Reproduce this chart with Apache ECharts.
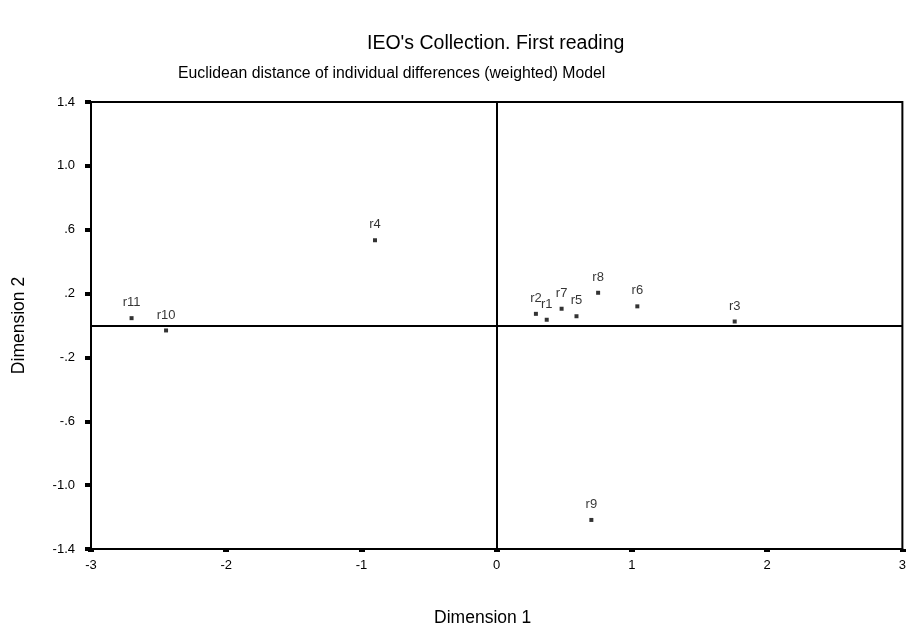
<!DOCTYPE html>
<html>
<head>
<meta charset="utf-8">
<script src="https://cdn.jsdelivr.net/npm/echarts@6/dist/echarts.min.js"></script>
<style>html,body{margin:0;padding:0;background:#fff}#c{width:909px;height:632px}</style>
</head>
<body>
<div id="c"></div>
<script>
const pointNames = ['r1','r2','r3','r4','r5','r6','r7','r8','r9','r10','r11'];
const dimension1 = [0.37, 0.29, 1.76, -0.90, 0.59, 1.04, 0.48, 0.75, 0.70, -2.445, -2.70];
const dimension2 = [0.036, 0.073, 0.025, 0.534, 0.058, 0.12, 0.105, 0.205, -1.218, -0.031, 0.046];
const yTickValues = [-1.4, -1.0, -0.6, -0.2, 0.2, 0.6, 1.0, 1.4];
const yTickLabels = ['-1.4', '-1.0', '-.6', '-.2', '.2', '.6', '1.0', '1.4'];
const xTickValues = [-3, -2, -1, 0, 1, 2, 3];
const xTickLabels = ['-3', '-2', '-1', '0', '1', '2', '3'];

function lookup(vals, labels, v) {
  let best = 0, bd = Infinity;
  vals.forEach((t, i) => { const d = Math.abs(t - v); if (d < bd) { bd = d; best = i; } });
  return bd < 1e-6 ? labels[best] : '';
}

const FONT = 'Liberation Sans';
const chart = echarts.init(document.getElementById('c'), null, { renderer: 'canvas' });
chart.setOption({
  backgroundColor: '#fff',
  animation: false,
  title: [
    { text: "IEO's Collection. First reading", left: 362, top: 29,
      textStyle: { fontFamily: FONT, fontSize: 19.5, fontWeight: 'normal', color: '#000' } },
    { text: 'Euclidean distance of individual differences (weighted) Model', left: 173, top: 61,
      textStyle: { fontFamily: FONT, fontSize: 15.8, fontWeight: 'normal', color: '#000' } }
  ],
  grid: { left: 91, right: 6, top: 102, bottom: 83, show: true, borderColor: '#000', borderWidth: 2, containLabel: false },
  xAxis: {
    type: 'value', min: -3, max: 3, interval: 1,
    name: 'Dimension 1', nameLocation: 'middle', nameGap: 60,
    nameTextStyle: { fontFamily: FONT, fontSize: 17.5, color: '#000', padding: [0, 28, 0, 0] },
    axisLine: { show: true, onZero: false, lineStyle: { color: '#000', width: 2 } },
    axisTick: { show: true, length: 3, lineStyle: { color: '#000', width: 6 } },
    axisLabel: { fontFamily: FONT, fontSize: 13, color: '#000', margin: 10,
      formatter: v => lookup(xTickValues, xTickLabels, v) },
    splitLine: { show: false }
  },
  yAxis: {
    type: 'value', min: -1.4, max: 1.4, interval: 0.4,
    name: 'Dimension 2', nameLocation: 'middle', nameGap: 63, nameRotate: 90,
    nameTextStyle: { fontFamily: FONT, fontSize: 17.5, color: '#000' },
    axisLine: { show: true, onZero: false, lineStyle: { color: '#000', width: 2 } },
    axisTick: { show: true, length: 6, lineStyle: { color: '#000', width: 4 } },
    axisLabel: { fontFamily: FONT, fontSize: 13, color: '#000', margin: 16,
      formatter: v => lookup(yTickValues, yTickLabels, v) },
    splitLine: { show: false }
  },
  series: [{
    type: 'scatter',
    symbol: 'rect',
    symbolSize: 4,
    itemStyle: { color: '#000' },
    data: pointNames.map((n, i) => ({ name: n, value: [dimension1[i], dimension2[i]] })),
    label: { show: true, position: 'top', distance: 7, formatter: '{b}', offset: [-2, 0],
      fontFamily: FONT, fontSize: 13, color: '#000' },
    labelLayout: { hideOverlap: false },
    markLine: {
      silent: true, symbol: 'none', animation: false,
      label: { show: false },
      lineStyle: { color: '#000', width: 2, type: 'solid' },
      data: [{ xAxis: 0 }, { yAxis: 0 }]
    }
  }]
});
</script>
</body>
</html>
